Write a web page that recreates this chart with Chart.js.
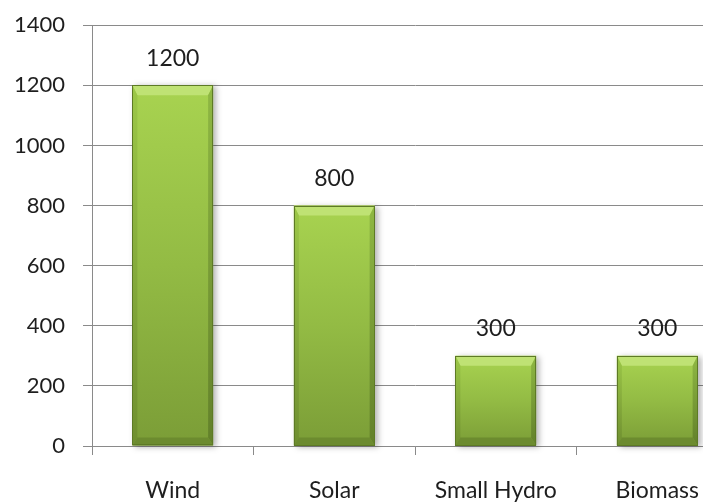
<!DOCTYPE html>
<html>
<head>
<meta charset="utf-8">
<script src="https://cdn.jsdelivr.net/npm/chart.js@4/dist/chart.umd.min.js"></script>
<style>
  html, body { margin: 0; padding: 0; background: #fff; }
  #wrap { width: 703px; height: 502px; overflow: hidden; position: relative; }
  #chart { position: absolute; left: 0; top: -6px; }
</style>
</head>
<body>
<div id="wrap"><canvas id="chart" width="738" height="508"></canvas></div>
<script>
'use strict'

// capacity per source
const sources = ['Wind', 'Solar', 'Small Hydro', 'Biomass'];
const capacity = [1200, 800, 300, 300];
const yTicks = [0, 200, 400, 600, 800, 1000, 1200, 1400];

const FONT = 'Lato, "Open Sans", sans-serif';
const INK = '#1e1e1e';
const GRID = '#8a8a8a';

// bevelled green bars with a soft shadow
const bevelBars = {
  id: 'bevelBars',
  afterDatasetsDraw(chart) {
    const ctx = chart.ctx;
    const meta = chart.getDatasetMeta(0);
    meta.data.forEach(function (bar) {
      const x0 = bar.x - bar.width / 2;
      const x1 = bar.x + bar.width / 2;
      const top = bar.y;
      const bot = bar.base;
      const h = bot - top;
      const bt = Math.min(10, h / 4);   // top bevel
      const bs = 5;                       // side bevel
      const bb = Math.min(8, h / 5);     // bottom bevel

      ctx.save();
      // shadow + main face
      ctx.shadowColor = 'rgba(0,0,0,0.3)';
      ctx.shadowBlur = 6;
      ctx.shadowOffsetX = 3;
      ctx.shadowOffsetY = 1;
      const g = ctx.createLinearGradient(0, top, 0, bot);
      g.addColorStop(0, '#a8d350');
      g.addColorStop(0.5, '#93bb44');
      g.addColorStop(1, '#7b9d37');
      ctx.fillStyle = g;
      ctx.fillRect(x0, top, x1 - x0, h);
      ctx.restore();

      ctx.save();
      // top bevel
      ctx.fillStyle = '#bfe274';
      ctx.beginPath();
      ctx.moveTo(x0, top); ctx.lineTo(x1, top);
      ctx.lineTo(x1 - bs, top + bt); ctx.lineTo(x0 + bs, top + bt);
      ctx.closePath(); ctx.fill();
      // left bevel
      const lg = ctx.createLinearGradient(0, top, 0, bot);
      lg.addColorStop(0, '#9cc748');
      lg.addColorStop(1, '#6f8f30');
      ctx.fillStyle = lg;
      ctx.beginPath();
      ctx.moveTo(x0, top); ctx.lineTo(x0 + bs, top + bt);
      ctx.lineTo(x0 + bs, bot - bb); ctx.lineTo(x0, bot);
      ctx.closePath(); ctx.fill();
      // right bevel
      const rg = ctx.createLinearGradient(0, top, 0, bot);
      rg.addColorStop(0, '#8fb843');
      rg.addColorStop(1, '#62802a');
      ctx.fillStyle = rg;
      ctx.beginPath();
      ctx.moveTo(x1, top); ctx.lineTo(x1 - bs, top + bt);
      ctx.lineTo(x1 - bs, bot - bb); ctx.lineTo(x1, bot);
      ctx.closePath(); ctx.fill();
      // bottom bevel
      ctx.fillStyle = '#6c8b2f';
      ctx.beginPath();
      ctx.moveTo(x0, bot); ctx.lineTo(x1, bot);
      ctx.lineTo(x1 - bs, bot - bb); ctx.lineTo(x0 + bs, bot - bb);
      ctx.closePath(); ctx.fill();
      // outline
      ctx.strokeStyle = '#5d7a25';
      ctx.lineWidth = 1;
      ctx.strokeRect(Math.round(x0) + 0.5, Math.round(top) + 0.5,
        Math.round(x1 - x0) - 1, Math.round(h) - 1);
      ctx.restore();
    });
  }
};

// value printed above each bar
const valueLabels = {
  id: 'valueLabels',
  afterDraw(chart) {
    const ctx = chart.ctx;
    const meta = chart.getDatasetMeta(0);
    ctx.save();
    ctx.font = '23px ' + FONT;
    ctx.fillStyle = INK;
    ctx.textAlign = 'center';
    ctx.textBaseline = 'middle';
    meta.data.forEach(function (bar, i) {
      ctx.fillText(String(capacity[i]), bar.x, bar.y - 27);
    });
    ctx.restore();
  }
};

const chart = new Chart(document.getElementById('chart'), {
  type: 'bar',
  data: {
    labels: sources,
    datasets: [{
      data: capacity,
      backgroundColor: 'rgba(0,0,0,0)',
      borderWidth: 0,
      categoryPercentage: 1,
      barPercentage: 0.5
    }]
  },
  options: {
    responsive: false,
    animation: false,
    events: [],
    layout: { padding: { left: 14, top: 12, right: 0, bottom: 0 } },
    plugins: { legend: { display: false }, tooltip: { enabled: false } },
    scales: {
      y: {
        min: 0,
        max: 1400,
        afterBuildTicks(scale) { scale.ticks = yTicks.map(v => ({ value: v })); },
        afterFit(scale) { scale.width = 78; },
        border: { color: GRID, width: 1 },
        grid: { color: GRID, lineWidth: 1, tickLength: 9 },
        ticks: {
          color: INK, padding: 18, font: { family: FONT, size: 22 },
          callback: v => String(v)
        }
      },
      x: {
        afterFit(scale) { scale.height = 56; },
        border: { color: GRID, width: 1 },
        grid: { color: GRID, drawOnChartArea: false, tickLength: 9, offset: true },
        ticks: { color: INK, padding: 22, maxRotation: 0, font: { family: FONT, size: 23 } }
      }
    }
  },
  plugins: [bevelBars, valueLabels]
});
</script>
</body>
</html>
